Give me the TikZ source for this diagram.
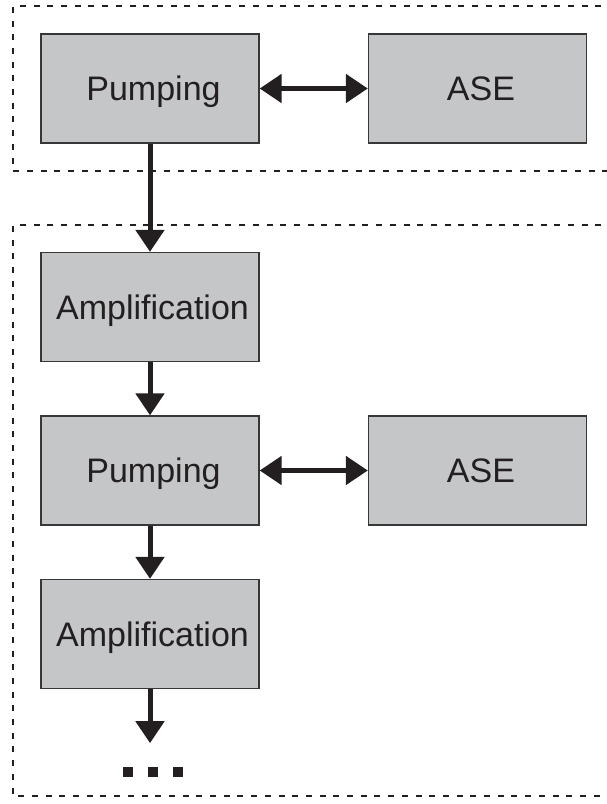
\documentclass[tikz,border=0pt]{standalone}
\usepackage{fontspec}
\setmainfont{Liberation Sans}
\usepackage{tikz}
\usetikzlibrary{positioning}
\usetikzlibrary{chains}
\usetikzlibrary{arrows.meta}

\definecolor{boxgray}{RGB}{197,198,200}
\definecolor{boxline}{RGB}{55,55,55}
\definecolor{ink}{RGB}{35,31,32}

\begin{document}
\begin{tikzpicture} [
   x=1pt, y=1pt,
   start chain=going below,            % blocks run top-to-bottom
   node distance=163.5pt and 327.5pt,  % centre-to-centre spacing
    ]
% -------------------------------------------------
\tikzset{
  base/.style={draw=boxline, fill=boxgray, on grid, align=center, line width=1.3pt,
               text=ink, text height=24.3pt, text depth=0pt,
               font=\fontsize{34pt}{40pt}\selectfont},
  blk/.style={base, rectangle, minimum width=218pt, minimum height=109pt},
  line/.style={draw=ink, line width=5pt, -{Triangle[length=22pt,width=28pt]}},
  dline/.style={line, {Triangle[length=22pt,width=28pt]}-{Triangle[length=22pt,width=28pt]}},
  group/.style={draw=ink, line width=2.8pt, dash pattern=on 6pt off 7.7pt},
}
    \useasboundingbox (0,0) rectangle (606,-804);

    % dotted groups
    \draw [group] (615,-6) -- (13,-6) -- (13,-171) -- (615,-171);
    \draw [group] (615,-225) -- (13,-225) -- (13,-796) -- (615,-796);

    \node [blk, on chain] (pump1) at (150,-88.5) {\hspace*{7pt}Pumping};
    \node [blk, on chain, yshift=-55pt] (amp1) {\hspace*{5pt}Amplification};
    \node [blk, on chain] (pump2) {\hspace*{7pt}Pumping};
    \node [blk, on chain] (amp2) {\hspace*{5pt}Amplification};

    \node [blk, right=of pump1] (ase1) {\hspace*{7pt}ASE};
    \node [blk, right=of pump2] (ase2) {\hspace*{7pt}ASE};

    \coordinate [below=54pt of amp2.south] (more);

    \path [dline] (pump1) -- (ase1);
    \path [dline] (pump2) -- (ase2);
    \path [line] (pump1) -- (amp1);
    \path [line] (amp1) -- (pump2);
    \path [line] (pump2) -- (amp2);
    \path [line] (amp2.south) -- (more);

    % continuation dots
    \foreach \dx [count=\i] in {-22,3,28}
      \node [fill=ink, inner sep=0pt, minimum size=10pt, below right=29pt and \dx pt of more, anchor=center] (dot\i) {};

\end{tikzpicture}
\end{document}
